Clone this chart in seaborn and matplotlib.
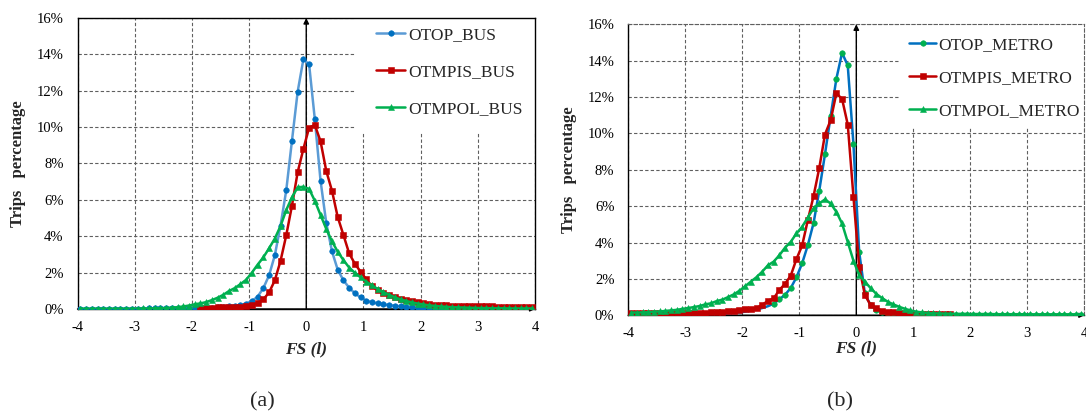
import numpy as np
import matplotlib
matplotlib.use("Agg")
import matplotlib.pyplot as plt
import seaborn as sns
from matplotlib.patches import Rectangle
from matplotlib.ticker import FuncFormatter

nan = np.nan

# FS (l) bin centres, -3.95 ... 3.95
fs_bins = np.round(np.arange(-3.95, 4.0, 0.1), 2)

# ---------------- (a) BUS, trips percentage -----------------
otop_bus = [
    0.01, 0.01, 0.01, 0.01, 0.01, 0.01, 0.01, 0.02, 0.02, 0.02,
    0.02, 0.02, 0.03, 0.03, 0.03, 0.03, 0.04, 0.04, 0.04, 0.05,
    0.05, 0.06, 0.07, 0.08, 0.09, 0.11, 0.14, 0.18, 0.23, 0.30,
    0.44, 0.68, 1.15, 1.85, 2.95, 4.58, 6.52, 9.25, 11.95, 13.73,
    13.45, 10.43, 7.05, 4.73, 3.17, 2.16, 1.58, 1.17, 0.86, 0.64,
    0.46, 0.37, 0.31, 0.26, 0.22, 0.18, 0.15, 0.12, 0.10, 0.08,
    0.07, 0.06, 0.05, 0.04, 0.04, 0.04, 0.03, 0.03, 0.03, 0.03,
    0.02, 0.02, 0.02, 0.02, 0.02, 0.02, 0.02, 0.02, 0.02, 0.02,
]
otmpis_bus = [
    nan, nan, nan, nan, nan, nan, nan, nan, nan, nan,
    nan, nan, nan, nan, nan, nan, nan, nan, nan, nan,
    nan, 0.07, 0.08, 0.08, 0.09, 0.10, 0.11, 0.12, 0.13, 0.16,
    0.20, 0.33, 0.53, 0.91, 1.57, 2.64, 4.05, 5.68, 7.52, 8.80,
    9.97, 10.12, 9.22, 7.59, 6.50, 5.06, 4.07, 3.06, 2.49, 2.05,
    1.63, 1.25, 1.02, 0.86, 0.75, 0.64, 0.57, 0.50, 0.42, 0.36,
    0.31, 0.27, 0.24, 0.22, 0.20, 0.19, 0.18, 0.17, 0.16, 0.15,
    0.15, 0.14, 0.14, 0.13, 0.13, 0.13, 0.12, 0.12, 0.12, 0.12,
]
otmpol_bus = [
    0.02, 0.02, 0.02, 0.02, 0.02, 0.02, 0.02, 0.02, 0.02, 0.02,
    0.02, 0.03, 0.03, 0.04, 0.05, 0.06, 0.08, 0.10, 0.14, 0.19,
    0.26, 0.31, 0.38, 0.49, 0.62, 0.78, 0.99, 1.15, 1.37, 1.61,
    2.00, 2.44, 2.84, 3.34, 3.87, 4.56, 5.44, 6.14, 6.69, 6.72,
    6.60, 5.95, 5.17, 4.40, 3.72, 3.15, 2.69, 2.28, 1.99, 1.74,
    1.50, 1.30, 1.10, 0.93, 0.78, 0.64, 0.53, 0.44, 0.36, 0.30,
    0.25, 0.20, 0.17, 0.14, 0.12, 0.10, 0.09, 0.08, 0.07, 0.06,
    0.05, 0.05, 0.04, 0.04, 0.04, 0.03, 0.03, 0.03, 0.03, 0.03,
]

# ---------------- (b) METRO, trips percentage -----------------
otop_metro = [
    0.01, 0.01, 0.01, 0.01, 0.01, 0.01, 0.02, 0.02, 0.02, 0.02,
    0.03, 0.03, 0.04, 0.05, 0.06, 0.07, 0.08, 0.10, 0.13, 0.16,
    0.20, 0.25, 0.32, 0.40, 0.50, 0.64, 0.88, 1.13, 1.50, 2.09,
    2.86, 3.86, 5.07, 6.85, 8.85, 10.95, 13.00, 14.43, 13.74, 9.41,
    3.50, 1.20, 0.55, 0.30, 0.18, 0.12, 0.10, 0.08, 0.07, 0.06,
    0.05, 0.05, 0.05, 0.05, 0.04, 0.04, 0.04, 0.04, 0.04, 0.04,
    0.04, 0.04, 0.04, 0.04, 0.04, 0.04, 0.04, 0.04, 0.04, 0.04,
    0.03, 0.03, 0.03, 0.03, 0.03, 0.03, 0.03, 0.03, 0.03, 0.03,
]
otmpis_metro = [
    0.10, 0.10, 0.10, 0.10, 0.10, 0.10, 0.11, 0.11, 0.11, 0.12,
    0.12, 0.13, 0.14, 0.15, 0.16, 0.18, 0.19, 0.22, 0.24, 0.29,
    0.32, 0.35, 0.40, 0.57, 0.80, 0.93, 1.39, 1.73, 2.18, 3.09,
    3.84, 5.24, 6.55, 8.09, 9.94, 10.73, 12.20, 11.90, 10.49, 6.52,
    2.67, 1.12, 0.57, 0.38, 0.26, 0.20, 0.16, 0.14, 0.12, 0.10,
    0.09, 0.08, 0.08, 0.07, 0.07, 0.06, 0.06, nan, nan, nan,
    nan, nan, nan, nan, nan, nan, nan, nan, nan, nan,
    nan, nan, nan, nan, nan, nan, nan, nan, nan, nan,
]
otmpol_metro = [
    0.15, 0.15, 0.16, 0.17, 0.20, 0.21, 0.24, 0.27, 0.30, 0.35,
    0.40, 0.45, 0.51, 0.60, 0.66, 0.78, 0.86, 1.00, 1.15, 1.35,
    1.60, 1.85, 2.10, 2.40, 2.75, 2.95, 3.30, 3.72, 4.04, 4.50,
    4.87, 5.38, 5.88, 6.15, 6.37, 6.15, 5.69, 5.05, 4.03, 3.00,
    2.21, 1.85, 1.50, 1.18, 0.95, 0.75, 0.60, 0.47, 0.36, 0.27,
    0.20, 0.16, 0.13, 0.11, 0.10, 0.09, 0.09, 0.08, 0.08, 0.08,
    0.07, 0.07, 0.07, 0.07, 0.06, 0.06, 0.06, 0.06, 0.06, 0.05,
    0.05, 0.05, 0.05, 0.05, 0.05, 0.05, 0.05, 0.05, 0.05, 0.05,
]

labels_a = ["OTOP_BUS", "OTMPIS_BUS", "OTMPOL_BUS"]
labels_b = ["OTOP_METRO", "OTMPIS_METRO", "OTMPOL_METRO"]
x_ticks = [-4, -3, -2, -1, 0, 1, 2, 3, 4]
y_ticks = [0, 2, 4, 6, 8, 10, 12, 14, 16]

BLUE_L = "#5B9BD5"
BLUE = "#0070C0"
RED = "#C00000"
GREEN = "#00B050"
GRID = "#5f5f5f"

sns.set_style("white")
plt.rcParams["font.family"] = ["Liberation Serif", "DejaVu Serif"]
plt.rcParams["axes.unicode_minus"] = False

fig = plt.figure(figsize=(10.86, 4.15), dpi=100)
ax_a = fig.add_axes([77.5 / 1086, 106 / 415, 457.5 / 1086, 291 / 415])
ax_b = fig.add_axes([628.3 / 1086, 99.7 / 415, 456 / 1086, 291 / 415])


def style_axes(ax, dashed_outer):
    ax.set_xlim(-4, 4)
    ax.set_ylim(0, 16)
    ax.set_xticks(x_ticks)
    ax.set_yticks(y_ticks)
    ax.yaxis.set_major_formatter(FuncFormatter(lambda v, p: f"{v:.0f}%"))
    ax.set_axisbelow(True)
    ax.grid(True, color=GRID, linestyle=(0, (3, 2)), linewidth=0.8)
    ax.tick_params(axis="both", length=0, labelsize=10.5, colors="black")
    ax.tick_params(axis="y", pad=10)
    ax.tick_params(axis="x", pad=8.5)
    for side in ["left", "bottom"]:
        ax.spines[side].set_color("black")
        ax.spines[side].set_linewidth(1.0)
    for side in ["top", "right"]:
        if dashed_outer:
            ax.spines[side].set_color(GRID)
            ax.spines[side].set_linestyle((0, (3, 2)))
            ax.spines[side].set_linewidth(0.8)
        else:
            ax.spines[side].set_color("black")
            ax.spines[side].set_linewidth(1.0)
    ax.set_ylabel("Trips   percentage", fontsize=12, fontweight="bold")
    ax.set_xlabel("FS (l)", fontsize=12.5, fontweight="bold", fontstyle="italic")
    # axis arrows
    ax.annotate("", xy=(0, 16), xytext=(0, 0),
                arrowprops=dict(arrowstyle="-|>", color="black", lw=1.0,
                                mutation_scale=8, shrinkA=0, shrinkB=0),
                annotation_clip=False, zorder=1.5)
    ax.annotate("", xy=(4, 0), xytext=(-4, 0),
                arrowprops=dict(arrowstyle="-|>", color="black", lw=1.0,
                                mutation_scale=7, shrinkA=0, shrinkB=0),
                annotation_clip=False, zorder=1.5)


style_axes(ax_a, dashed_outer=False)
style_axes(ax_b, dashed_outer=True)

# white legend area hiding the grid
ax_a.add_patch(Rectangle((0.86, 9.7), 3.14, 6.3, facecolor="white",
                         edgecolor="none", zorder=1))
ax_b.add_patch(Rectangle((0.76, 10.3), 3.24, 5.7, facecolor="white",
                         edgecolor="none", zorder=1))

LW = 1.8
MS = 4.0

# ---- panel (a)
sns.lineplot(x=fs_bins, y=otop_bus, ax=ax_a, color=BLUE_L, lw=LW,
             marker="o", markersize=MS, markerfacecolor=BLUE,
             markeredgecolor=BLUE, markeredgewidth=0.4,
             errorbar=None, label=labels_a[0], zorder=3)
sns.lineplot(x=fs_bins, y=otmpis_bus, ax=ax_a, color=RED, lw=LW,
             marker="s", markersize=MS, markerfacecolor=RED,
             markeredgecolor=RED, markeredgewidth=0.4,
             errorbar=None, label=labels_a[1], zorder=3)
sns.lineplot(x=fs_bins, y=otmpol_bus, ax=ax_a, color=GREEN, lw=LW,
             marker="^", markersize=MS + 0.3, markerfacecolor=GREEN,
             markeredgecolor=GREEN, markeredgewidth=0.4,
             errorbar=None, label=labels_a[2], zorder=3)

# ---- panel (b)
mark_mask = list(fs_bins > -1.55)
sns.lineplot(x=fs_bins, y=otop_metro, ax=ax_b, color=BLUE, lw=LW,
             marker="o", markersize=MS, markerfacecolor=GREEN,
             markeredgecolor=GREEN, markeredgewidth=0.4, markevery=mark_mask,
             errorbar=None, label=labels_b[0], zorder=3)
sns.lineplot(x=fs_bins, y=otmpis_metro, ax=ax_b, color=RED, lw=LW,
             marker="s", markersize=MS, markerfacecolor=RED,
             markeredgecolor=RED, markeredgewidth=0.4,
             errorbar=None, label=labels_b[1], zorder=3)
sns.lineplot(x=fs_bins, y=otmpol_metro, ax=ax_b, color=GREEN, lw=LW,
             marker="^", markersize=MS + 0.3, markerfacecolor=GREEN,
             markeredgecolor=GREEN, markeredgewidth=0.4,
             errorbar=None, label=labels_b[2], zorder=3)

ax_a.legend(loc="upper left", bbox_to_anchor=(0.652, 0.97), frameon=False,
            fontsize=12.5, handlelength=1.7, handletextpad=0.15,
            labelspacing=1.2, borderpad=0, borderaxespad=0)
ax_b.legend(loc="upper left", bbox_to_anchor=(0.616, 0.955), frameon=False,
            fontsize=12.5, handlelength=1.55, handletextpad=0.15,
            labelspacing=0.95, borderpad=0, borderaxespad=0)

for ax in (ax_a, ax_b):
    ax.yaxis.set_label_coords(-0.113, 0.5)
ax_a.xaxis.set_label_coords(0.5, -0.113)
ax_b.xaxis.set_label_coords(0.5, -0.085)

fig.text(262 / 1086, 1 - 402 / 415, "(a)", fontsize=16, ha="center", va="center")
fig.text(840 / 1086, 1 - 402 / 415, "(b)", fontsize=16, ha="center", va="center")

fig.savefig("out.png", dpi=100)
